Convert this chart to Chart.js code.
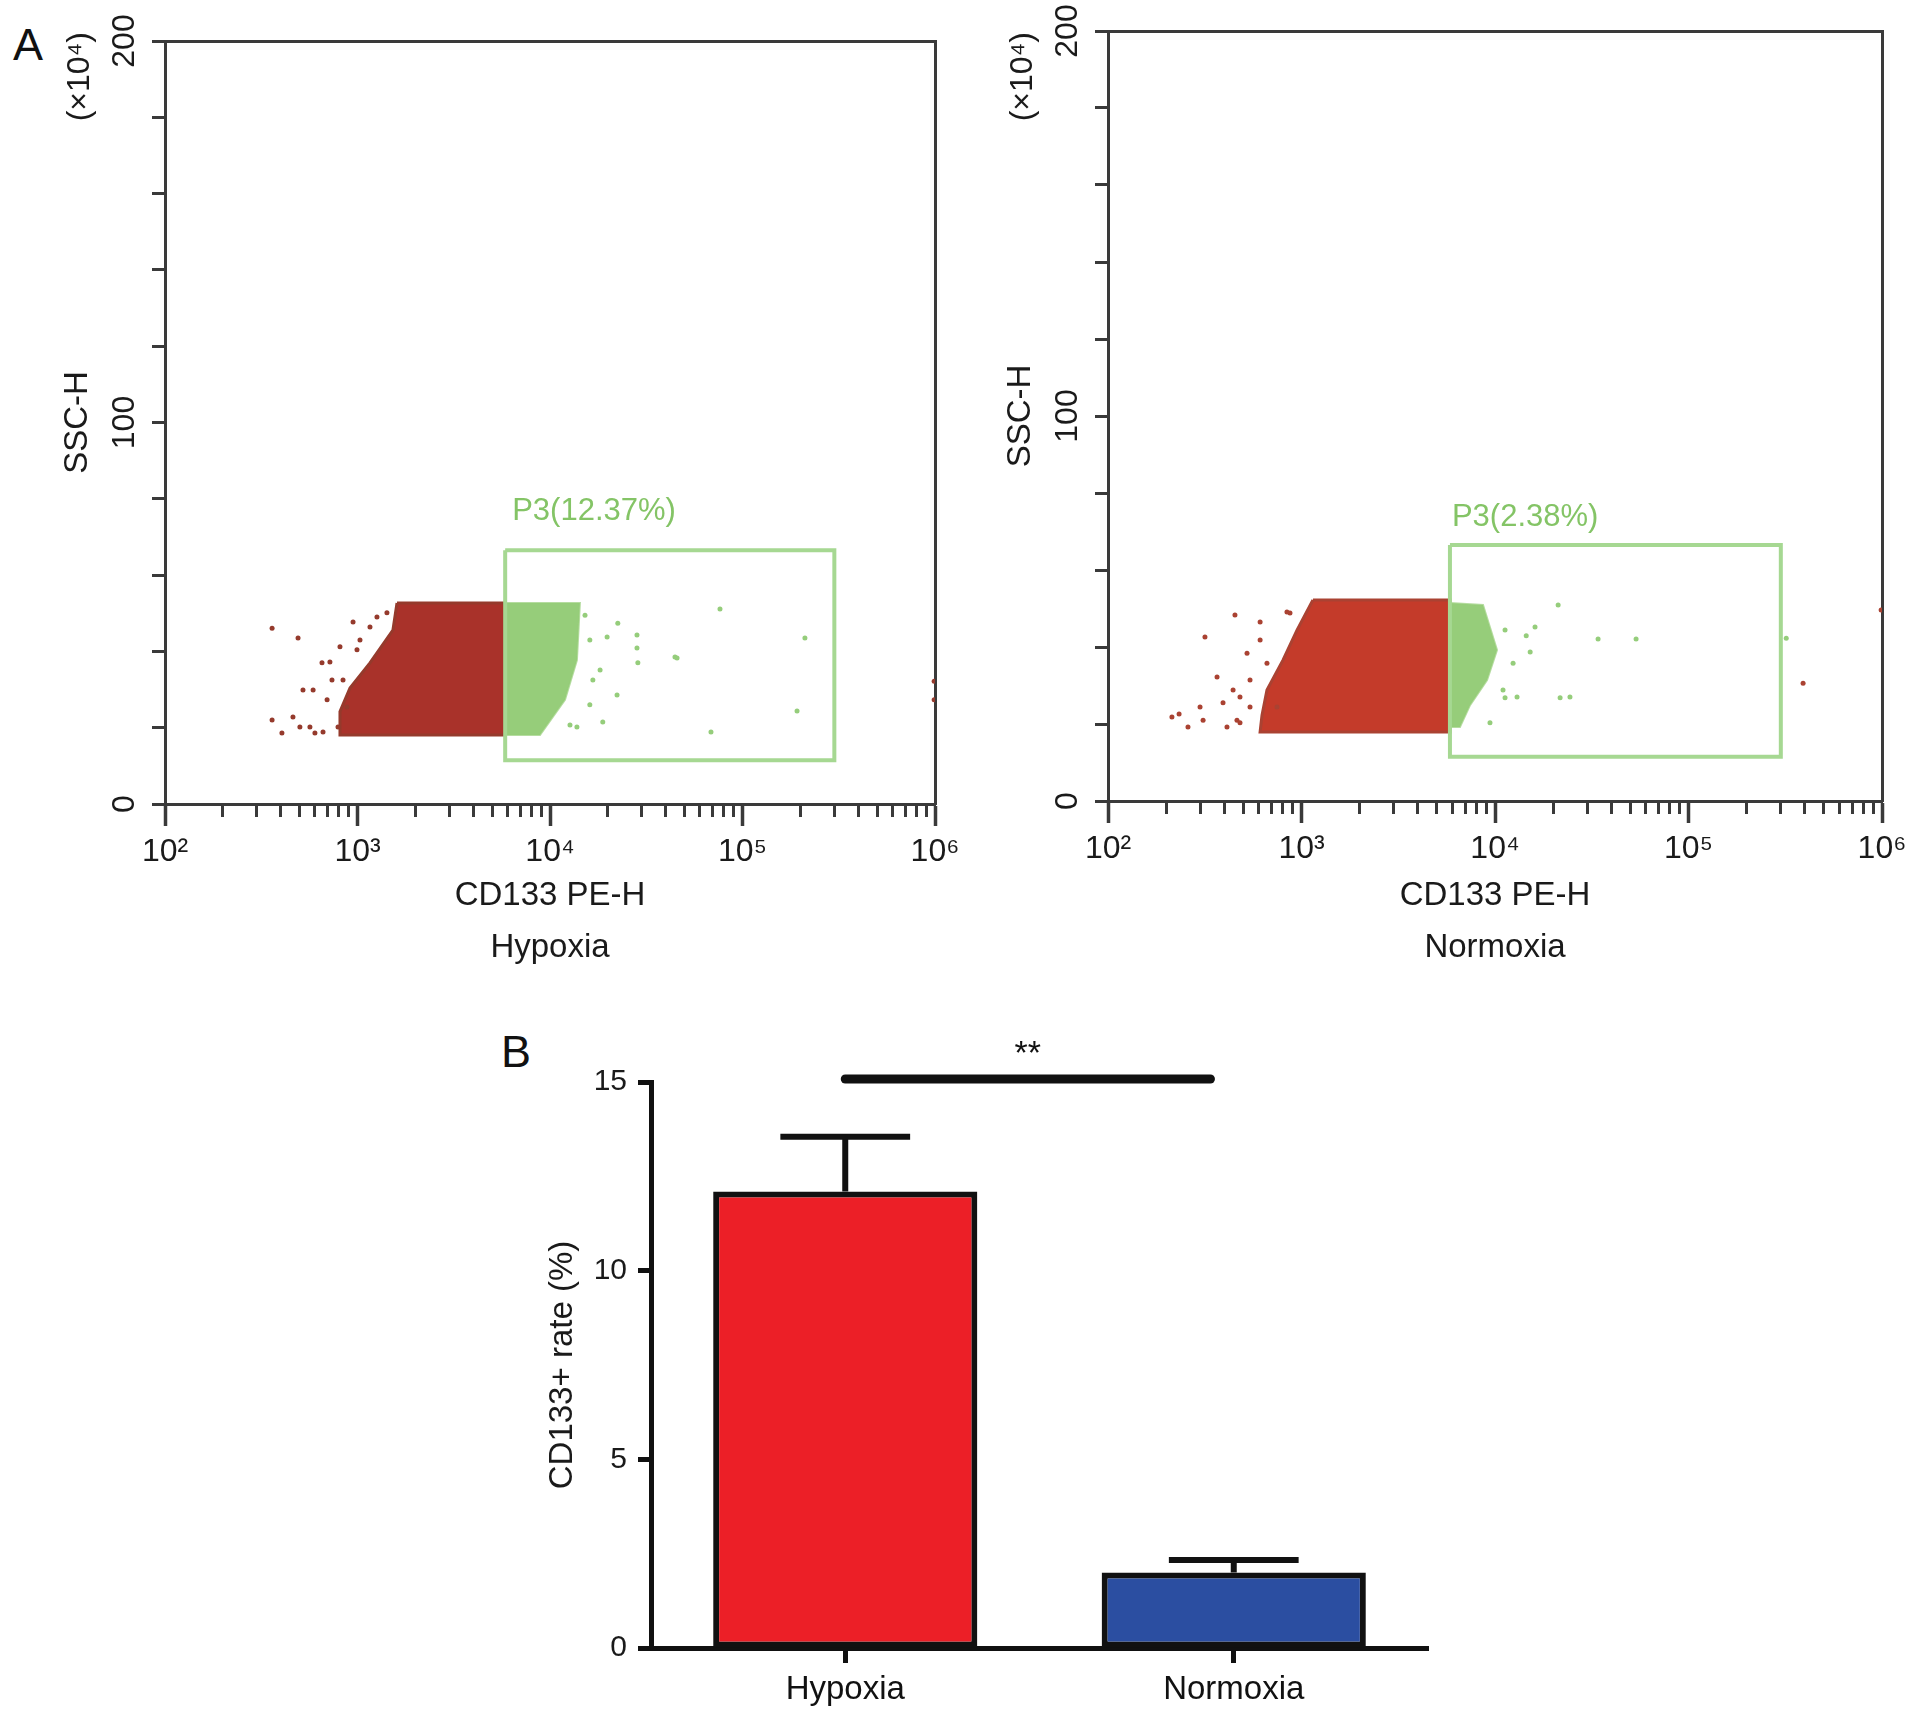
<!DOCTYPE html>
<html>
<head>
<meta charset="utf-8">
<script src="https://cdn.jsdelivr.net/npm/chart.js@4.4.1/dist/chart.umd.min.js"></script>
<style>
  html, body { margin: 0; padding: 0; background: #fff; }
  body { width: 1914px; height: 1722px; position: relative; overflow: hidden; font-family: 'Liberation Sans', Arial, sans-serif; }
  canvas { position: absolute; }
  .panel { position: absolute; font-size: 45px; line-height: 45px; color: #111; }
</style>
</head>
<body>
<div class="panel" style="left:13px;top:22px">A</div>
<div class="panel" style="left:501px;top:1029px">B</div>
<canvas id="hypoxia" width="960" height="990" style="left:0;top:0"></canvas>
<canvas id="normoxia" width="954" height="990" style="left:960px;top:0"></canvas>
<canvas id="rate" width="1000" height="722" style="left:450px;top:1000px"></canvas>
<script>
// ---- panel A: CD133 PE-H (log) vs SSC-H (x10^4) ----
const xDecades = [100, 1000, 10000, 100000, 1000000];
const xTickLabels = ['10²', '10³', '10⁴', '10⁵', '10⁶'];
const yLabelled = [0, 100, 200];
const gateX = [5850, 300000, 300000, 5850, 5850];
const gateY = [66.5, 66.5, 11.5, 11.5, 66.5];

// hypoxia: dense populations (outline) and the loose events around them
const hypRedBodyX = [1604, 5850, 5850, 811, 811, 914, 1161, 1528, 1604];
const hypRedBodyY = [52.7, 52.7, 18.1, 18.1, 24.2, 30.4, 37.0, 45.6, 52.7];
const hypGreenBodyX = [5850, 14300, 13800, 11960, 8870, 5850, 5850];
const hypGreenBodyY = [52.7, 52.7, 37.7, 27.3, 18.1, 18.1, 52.7];
const hypRedDotsX = [360, 491, 405, 360, 521, 654, 811, 948, 719, 462, 566, 695, 601, 502, 841, 994, 1161, 1422, 881,
                     588, 737, 1030, 1262, 792, 662, 990000, 990000];
const hypRedDotsY = [46.1, 43.5, 18.6, 22.0, 29.9, 37.0, 41.2, 47.7, 37.2, 22.8, 20.2, 27.3, 18.6, 20.2, 32.5, 40.4, 46.4, 50.1, 25.4,
                     29.9, 32.5, 43.0, 49.0, 20.2, 18.9, 32.2, 27.3];
const hypGreenDotsX = [22500, 28300, 28300, 28600, 44600, 22300, 18800, 16100, 16700, 19800, 13800, 76400, 211000, 45700, 192000, 68600, 15200, 18200, 16100, 12700];
const hypGreenDotsY = [47.4, 44.3, 40.9, 37.0, 38.5, 28.6, 21.5, 43.0, 32.5, 43.8, 20.2, 51.1, 43.5, 38.3, 24.4, 18.9, 49.5, 35.1, 26.0, 20.7];

// normoxia
const norRedBodyX = [1146, 5850, 5850, 611, 625, 663, 802, 948, 1146];
const norRedBodyY = [52.2, 52.2, 17.9, 17.9, 22.3, 28.8, 36.6, 44.4, 52.2];
const norGreenBodyX = [5850, 8670, 10240, 9100, 7430, 6590, 5850, 5850];
const norGreenBodyY = [51.4, 50.9, 39.2, 31.4, 24.9, 19.2, 19.2, 51.4];
const norRedDotsX = [214, 259, 310, 317, 453, 523, 611, 366, 393, 464, 542, 412, 611, 841, 747, 481, 299, 233,
                     872, 663, 542, 481, 443, 391000, 990000];
const norRedDotsY = [21.8, 19.2, 21.0, 42.6, 48.3, 38.4, 41.8, 32.2, 25.5, 21.0, 31.4, 19.2, 46.5, 49.1, 24.4, 27.0, 24.4, 22.6,
                     48.8, 35.8, 24.4, 20.3, 28.8, 30.6, 49.6];
const norGreenDotsX = [11270, 16100, 15200, 12400, 13000, 21700, 21200, 9420, 11000, 14500, 24400, 34100, 53600, 11270, 320000];
const norGreenDotsY = [44.4, 45.2, 38.7, 35.8, 27.0, 26.8, 50.9, 20.3, 28.8, 42.9, 27.0, 42.1, 42.1, 26.8, 42.3];

// ---- panel B: CD133+ rate ----
const groups = ['Hypoxia', 'Normoxia'];
const rateMean = [12.1, 2.0];
const rateSem = [1.45, 0.33];
const rateTicks = [0, 5, 10, 15];
const sigFrom = 0, sigTo = 0.94, sigY = 15.08;

const FONT = "'Liberation Sans', Arial, sans-serif";
Chart.defaults.font.family = FONT;
Chart.defaults.color = '#1a1a1a';
const axisColor = '#3a3a3a';

// draws small texts anchored on the chart scales
const annotate = {
  id: 'annotate',
  afterDatasetsDraw(chart, args, opts) {
    const ctx = chart.ctx;
    for (const t of opts.items || []) {
      const xs = chart.scales[t.xAxis || 'x'];
      const ys = chart.scales[t.yAxis || 'y'];
      const px = (t.x === undefined ? xs.left : xs.getPixelForValue(t.x)) + (t.dx || 0);
      const py = (t.y === undefined ? ys.top : ys.getPixelForValue(t.y)) + (t.dy || 0);
      ctx.save();
      ctx.translate(px, py);
      if (t.rotate) ctx.rotate(-Math.PI / 2);
      ctx.font = t.font;
      ctx.fillStyle = t.color;
      ctx.textAlign = t.align || 'left';
      ctx.textBaseline = 'middle';
      ctx.fillText(t.text, 0, 0);
      ctx.restore();
    }
  }
};

const pts = (xs, ys) => xs.map((x, i) => ({x: x, y: ys[i]}));
const minorTicks = xDecades.slice(0, -1).flatMap(d => [2, 3, 4, 5, 6, 7, 8, 9].map(k => k * d));

function flowChart(id, o) {
  return new Chart(document.getElementById(id), {
    type: 'scatter',
    data: {
      datasets: [
        { type: 'line', data: pts(gateX, gateY), borderColor: '#a6d892', borderWidth: 4, pointRadius: 0, fill: false, order: 0 },
        { data: pts(o.greenDotsX, o.greenDotsY), backgroundColor: '#95cd7b', borderWidth: 0, pointRadius: 2.5, order: 1 },
        { data: pts(o.redDotsX, o.redDotsY), backgroundColor: o.fringe, borderWidth: 0, pointRadius: 2.5, order: 2 },
        { type: 'line', data: pts(o.greenBodyX, o.greenBodyY), fill: 'shape', backgroundColor: 'rgba(136,198,104,0.88)',
          borderColor: 'rgba(150,205,120,0.7)', borderWidth: 2, pointRadius: 0, order: 3 },
        { type: 'line', data: pts(o.redBodyX, o.redBodyY), fill: 'shape', backgroundColor: o.red,
          borderColor: o.fringe, borderWidth: 3, pointRadius: 0, order: 4 }
      ]
    },
    options: {
      responsive: false,
      animation: false,
      events: [],
      layout: { padding: { left: 0, top: o.top, right: o.right, bottom: 0 }, autoPadding: false },
      plugins: {
        legend: { display: false },
        tooltip: { enabled: false },
        annotate: {
          items: [
            { text: o.gateText, x: gateX[0], y: gateY[0], dx: o.gateDx, dy: o.gateDy, font: '31px ' + FONT, color: '#84c466' },
            { text: '(×10⁴)', rotate: true, align: 'right', dx: -85, dy: o.unitDy, font: '32px ' + FONT, color: '#1a1a1a' }
          ]
        }
      },
      scales: {
        x: {
          type: 'logarithmic', position: 'bottom', weight: 1, min: 100, max: 1000000,
          afterBuildTicks: s => { s.ticks = xDecades.map(v => ({value: v})); },
          afterFit: s => { s.height = o.xHeight; s.paddingLeft = 0; s.paddingRight = 0; },
          ticks: { autoSkip: false, maxRotation: 0, padding: 7, font: {size: 32}, callback: (v, i) => xTickLabels[i] },
          grid: { drawOnChartArea: false, tickLength: 22, tickWidth: 3.5, tickColor: axisColor },
          border: { color: axisColor, width: 3 },
          title: { display: true, text: ['CD133 PE-H', o.name], font: {size: 33, lineHeight: 1.58}, padding: {top: 0, bottom: 16} }
        },
        y: {
          type: 'linear', position: 'left', min: 0, max: 200,
          afterFit: s => { s.width = o.yWidth; s.paddingTop = 0; s.paddingBottom = 0; },
          ticks: { stepSize: 20, autoSkip: false, minRotation: 90, maxRotation: 90, crossAlign: 'center', padding: 0,
                   font: {size: 32}, callback: v => yLabelled.includes(v) ? String(v) : '' },
          grid: { drawOnChartArea: false, tickLength: 13, tickWidth: 3, tickColor: axisColor },
          border: { color: axisColor, width: 3 },
          title: { display: true, text: 'SSC-H', font: {size: 33}, padding: {top: o.yWidth - 87 - 20, bottom: 0} }
        },
        xMinor: {
          type: 'logarithmic', position: 'bottom', weight: 0, min: 100, max: 1000000,
          afterBuildTicks: s => { s.ticks = minorTicks.map(v => ({value: v})); },
          afterFit: s => { s.height = 0; s.paddingLeft = 0; s.paddingRight = 0; },
          ticks: { display: false, autoSkip: false },
          grid: { drawOnChartArea: false, tickLength: 13, tickWidth: 3, tickColor: axisColor },
          border: { display: false }
        },
        xTop: {
          type: 'linear', position: 'top',
          afterFit: s => { s.height = 0; },
          ticks: { display: false },
          grid: { drawOnChartArea: false, drawTicks: false },
          border: { color: axisColor, width: 3 }
        },
        yRight: {
          type: 'linear', position: 'right',
          afterFit: s => { s.width = 0; },
          ticks: { display: false },
          grid: { drawOnChartArea: false, drawTicks: false },
          border: { color: axisColor, width: 3 }
        }
      }
    },
    plugins: [annotate]
  });
}

flowChart('hypoxia', {
  name: 'Hypoxia', gateText: 'P3(12.37%)',
  redBodyX: hypRedBodyX, redBodyY: hypRedBodyY, greenBodyX: hypGreenBodyX, greenBodyY: hypGreenBodyY,
  redDotsX: hypRedDotsX, redDotsY: hypRedDotsY, greenDotsX: hypGreenDotsX, greenDotsY: hypGreenDotsY,
  red: '#a9322a', fringe: '#953a2c',
  top: 41, right: 25, yWidth: 165, xHeight: 186, gateDx: 7, gateDy: -39, unitDy: -9
});

flowChart('normoxia', {
  name: 'Normoxia', gateText: 'P3(2.38%)',
  redBodyX: norRedBodyX, redBodyY: norRedBodyY, greenBodyX: norGreenBodyX, greenBodyY: norGreenBodyY,
  redDotsX: norRedDotsX, redDotsY: norRedDotsY, greenDotsX: norGreenDotsX, greenDotsY: norGreenDotsY,
  red: '#c43b2a', fringe: '#aa4232',
  top: 31, right: 32, yWidth: 148, xHeight: 189, gateDx: 2, gateDy: -28, unitDy: 1
});

// ---- panel B ----
const capHalf = 0.167;
const errorSets = groups.map((g, i) => {
  const top = rateMean[i] + rateSem[i];
  return {
    type: 'line', xAxisID: 'xIdx',
    data: [{x: i, y: rateMean[i]}, {x: i, y: top}, {x: i - capHalf, y: top}, {x: i + capHalf, y: top}],
    borderColor: '#111', borderWidth: 6, borderCapStyle: 'butt', pointRadius: 0, fill: false, clip: false, order: 1
  };
});

new Chart(document.getElementById('rate'), {
  type: 'bar',
  data: {
    labels: groups,
    datasets: [
      { data: rateMean, backgroundColor: ['#ec1f27', '#2b4ea1'], borderColor: '#111', borderWidth: 6, borderSkipped: false,
        barPercentage: 0.68, categoryPercentage: 1, grouped: false, order: 2 },
      ...errorSets,
      { type: 'line', xAxisID: 'xIdx', data: [{x: sigFrom, y: sigY}, {x: sigTo, y: sigY}],
        borderColor: '#111', borderWidth: 9, borderCapStyle: 'round', pointRadius: 0, fill: false, clip: false, order: 0 }
    ]
  },
  options: {
    responsive: false,
    animation: false,
    events: [],
    layout: { padding: { left: 0, top: 82, right: 22, bottom: 0 }, autoPadding: false },
    plugins: {
      legend: { display: false },
      tooltip: { enabled: false },
      annotate: {
        items: [
          { text: '**', xAxis: 'xIdx', x: (sigFrom + sigTo) / 2, y: sigY, dy: -24, align: 'center', font: '34px ' + FONT, color: '#111' }
        ]
      }
    },
    scales: {
      x: {
        type: 'category', offset: true,
        afterFit: s => { s.height = 74; s.paddingLeft = 0; s.paddingRight = 0; },
        grid: { offset: false, drawOnChartArea: false, tickLength: 15, tickWidth: 5, tickColor: '#111' },
        border: { color: '#111', width: 5 },
        ticks: { font: {size: 33}, padding: 7, color: '#111' }
      },
      xIdx: { type: 'linear', display: false, offset: false, min: -0.5, max: 1.5 },
      y: {
        min: 0, max: 15,
        afterBuildTicks: s => { s.ticks = rateTicks.map(v => ({value: v})); },
        afterFit: s => { s.width = 201; s.paddingTop = 0; s.paddingBottom = 0; },
        ticks: { padding: 11, font: {size: 30}, color: '#1a1a1a' },
        grid: { drawOnChartArea: false, tickLength: 13, tickWidth: 5, tickColor: '#111' },
        border: { color: '#111', width: 5 },
        title: { display: true, text: 'CD133+ rate (%)', font: {size: 33}, color: '#1a1a1a', padding: {top: 93, bottom: 0} }
      }
    }
  },
  plugins: [annotate]
});
</script>
</body>
</html>
